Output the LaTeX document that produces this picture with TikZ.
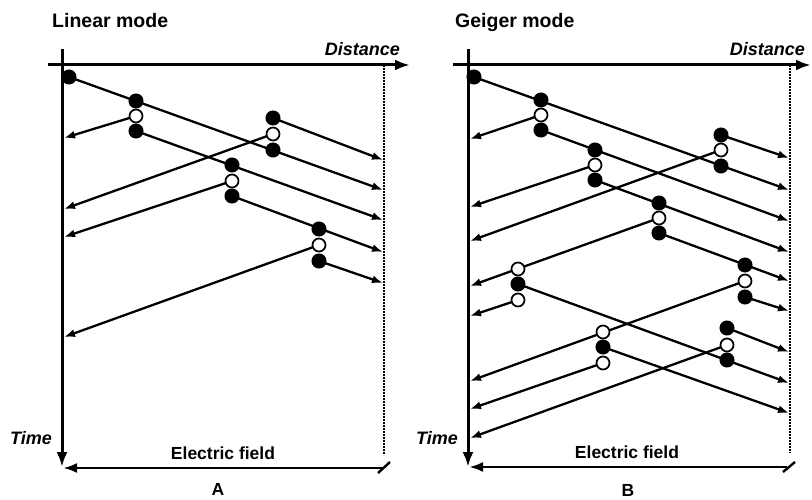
\documentclass[tikz,border=0pt]{standalone}
\usepackage{fontspec}
\setmainfont{Liberation Sans}
\usetikzlibrary{arrows.meta}
\tikzset{
  axis/.style={line width=3pt, -{Latex[length=15pt,width=11pt]}},
  track/.style={line width=2.3pt, -{Latex[length=11pt,width=8pt]}},
  fieldline/.style={line width=2.8pt, -{Latex[length=14pt,width=10pt]}},
  edge/.style={line width=1.2pt, dash pattern=on 2pt off 1pt},
  fdot/.style={circle, fill=black, draw=black, line width=1pt, minimum size=14pt, inner sep=0pt},
  odot/.style={circle, fill=white, draw=black, line width=1.7pt, minimum size=13pt, inner sep=0pt},
  ttl/.style={font=\fontsize{19.5}{24}\selectfont\bfseries, inner sep=0pt},
  lbl/.style={font=\fontsize{18}{20}\selectfont\bfseries\itshape, inner sep=0pt},
  flbl/.style={font=\fontsize{17.5}{20}\selectfont\bfseries, inner sep=0pt},
}
\begin{document}
\begin{tikzpicture}[x=1pt,y=-1pt]
\useasboundingbox (0,0) rectangle (812,500);
% ---------------- Left panel: Linear mode ----------------
\coordinate (LH0) at (48,65);   \coordinate (LH1) at (410,65);
\coordinate (LV0) at (62,49);   \coordinate (LV1) at (62,467);
\coordinate (LD0) at (384,65);  \coordinate (LD1) at (384,455);
\coordinate (LF0) at (383,468); \coordinate (LF1) at (63,468);
\coordinate (LS0) at (378,473); \coordinate (LS1) at (390,462);
\draw[edge] (LD0) -- (LD1);
\draw[axis] (LH0) -- (LH1);
\draw[axis] (LV0) -- (LV1);
\draw[fieldline] (LF0) -- (LF1);
\draw[line width=2.4pt] (LS0) -- (LS1);

\coordinate (L0) at (69,77);
\coordinate (L1a) at (136,101); \coordinate (L1b) at (136,116); \coordinate (L1c) at (136,131);
\coordinate (L2a) at (273,118); \coordinate (L2b) at (273,134); \coordinate (L2c) at (273,150);
\coordinate (L3a) at (232,165); \coordinate (L3b) at (232,181); \coordinate (L3c) at (232,196);
\coordinate (L4a) at (319,229); \coordinate (L4b) at (319,245); \coordinate (L4c) at (319,261);

\coordinate (LR1) at (383,160); \coordinate (LR2) at (383,190); \coordinate (LR3) at (383,220);
\coordinate (LR4) at (383,252); \coordinate (LR5) at (383,283);
\coordinate (LL1) at (64,138); \coordinate (LL2) at (64,209); \coordinate (LL3) at (64,237);
\coordinate (LL4) at (64,337);

\draw[track] (L0) -- (LR2);
\draw[track] (L1c) -- (LR3);
\draw[track] (L2a) -- (LR1);
\draw[track] (L3c) -- (LR4);
\draw[track] (L4c) -- (LR5);
\draw[track] (L1b) -- (LL1);
\draw[track] (L2b) -- (LL2);
\draw[track] (L3b) -- (LL3);
\draw[track] (L4b) -- (LL4);

\node[fdot] (n0) at (L0) {};
\foreach \g in {1,2,3,4}{
  \node[fdot] (n\g a) at (L\g a) {};
  \node[odot] (n\g b) at (L\g b) {};
  \node[fdot] (n\g c) at (L\g c) {};
}

\node[ttl, anchor=base west] (t1) at (52,28) {Linear mode};
\node[lbl, anchor=base east] (d1) at (400,56) {Distance};
\node[lbl, anchor=base east] (ti1) at (52,444) {Time};
\node[flbl, anchor=base] (e1) at (223,459) {Electric field};
\node[flbl, anchor=base] (A) at (218,495) {A};

% ---------------- Right panel: Geiger mode ----------------
\coordinate (RH0) at (453,65);  \coordinate (RH1) at (811,65);
\coordinate (RV0) at (468,49);  \coordinate (RV1) at (468,467);
\coordinate (RD0) at (790,65);  \coordinate (RD1) at (790,453);
\coordinate (RF0) at (787,467); \coordinate (RF1) at (469,467);
\coordinate (RS0) at (783,472); \coordinate (RS1) at (795,462);
\draw[edge] (RD0) -- (RD1);
\draw[axis] (RH0) -- (RH1);
\draw[axis] (RV0) -- (RV1);
\draw[fieldline] (RF0) -- (RF1);
\draw[line width=2.4pt] (RS0) -- (RS1);

\coordinate (G0) at (474,77);
\coordinate (G1a) at (541,100); \coordinate (G1b) at (541,115); \coordinate (G1c) at (541,130);
\coordinate (G2a) at (595,150); \coordinate (G2b) at (595,165); \coordinate (G2c) at (595,180);
\coordinate (G3a) at (721,135); \coordinate (G3b) at (721,150); \coordinate (G3c) at (721,166);
\coordinate (G4a) at (659,203); \coordinate (G4b) at (659,218); \coordinate (G4c) at (659,233);
\coordinate (G5a) at (518,269); \coordinate (G5b) at (518,284); \coordinate (G5c) at (518,300);
\coordinate (G6a) at (745,265); \coordinate (G6b) at (745,281); \coordinate (G6c) at (745,297);
\coordinate (G7a) at (603,332); \coordinate (G7b) at (603,347); \coordinate (G7c) at (603,363);
\coordinate (G8a) at (727,328); \coordinate (G8b) at (727,345); \coordinate (G8c) at (727,360);

\coordinate (GR1) at (789,158); \coordinate (GR2) at (789,190); \coordinate (GR3) at (789,221);
\coordinate (GR4) at (789,252); \coordinate (GR5) at (789,281); \coordinate (GR6) at (789,311);
\coordinate (GR7) at (789,352); \coordinate (GR8) at (789,383); \coordinate (GR9) at (789,413);
\coordinate (GL1) at (470,139); \coordinate (GL2) at (470,207); \coordinate (GL3) at (470,241);
\coordinate (GL4) at (470,286); \coordinate (GL5) at (470,316); \coordinate (GL6) at (470,381);
\coordinate (GL7) at (470,409); \coordinate (GL8) at (470,438);

\draw[track] (G0) -- (GR2);
\draw[track] (G1c) -- (GR3);
\draw[track] (G1b) -- (GL1);
\draw[track] (G2b) -- (GL2);
\draw[track] (G2c) -- (GR4);
\draw[track] (G3a) -- (GR1);
\draw[track] (G3b) -- (GL3);
\draw[track] (G4b) -- (GL4);
\draw[track] (G4c) -- (GR5);
\draw[track] (G5b) -- (GR8);
\draw[track] (G5c) -- (GL5);
\draw[track] (G6b) -- (GL6);
\draw[track] (G6c) -- (GR6);
\draw[track] (G7b) -- (GR9);
\draw[track] (G7c) -- (GL7);
\draw[track] (G8a) -- (GR7);
\draw[track] (G8b) -- (GL8);

\node[fdot] (m0) at (G0) {};
\foreach \g in {1,2,3,4,6,8}{
  \node[fdot] (m\g a) at (G\g a) {};
  \node[odot] (m\g b) at (G\g b) {};
  \node[fdot] (m\g c) at (G\g c) {};
}
\foreach \g in {5,7}{
  \node[odot] (m\g a) at (G\g a) {};
  \node[fdot] (m\g b) at (G\g b) {};
  \node[odot] (m\g c) at (G\g c) {};
}

\node[ttl, anchor=base west] (t2) at (455,28) {Geiger mode};
\node[lbl, anchor=base east] (d2) at (805,56) {Distance};
\node[lbl, anchor=base east] (ti2) at (458,444) {Time};
\node[flbl, anchor=base] (e2) at (627,458) {Electric field};
\node[flbl, anchor=base] (B) at (628,496) {B};
\end{tikzpicture}
\end{document}
